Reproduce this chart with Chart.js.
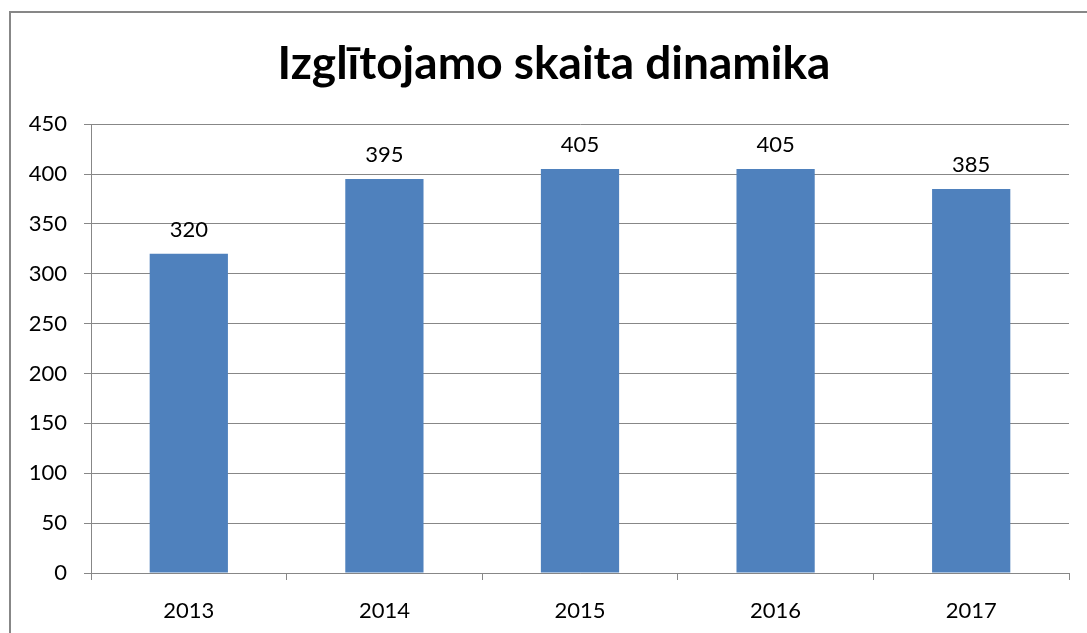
<!DOCTYPE html>
<html>
<head>
<meta charset="utf-8">
<script src="https://cdn.jsdelivr.net/npm/chart.js@4/dist/chart.umd.min.js"></script>
<style>
  html, body { margin: 0; padding: 0; background: #fff; overflow: hidden; }
  #wrap { position: relative; width: 1087px; height: 633px; }
  #frame { position: absolute; left: 9px; top: 11px; width: 1100px; height: 650px; border: 2px solid #878787; box-sizing: border-box; }
  canvas { position: absolute; left: 0; top: 0; }
</style>
</head>
<body>
<div id="wrap">
  <div id="frame"></div>
  <canvas id="c" width="1087" height="633"></canvas>
</div>
<script>
const titleText = "Izglītojamo skaita dinamika";
const categories = ["2013", "2014", "2015", "2016", "2017"];
const values = [320, 395, 405, 405, 385];
const yMin = 0, yMax = 450, yStep = 50;

const FONT = "Lato, 'Open Sans', sans-serif";
const GRID = "#878787";

const dataLabels = {
  id: "dataLabels",
  afterDatasetsDraw(chart) {
    const ctx = chart.ctx;
    const meta = chart.getDatasetMeta(0);
    ctx.save();
    ctx.font = "22px " + FONT;
    ctx.fillStyle = "#000";
    ctx.textAlign = "center";
    ctx.textBaseline = "bottom";
    meta.data.forEach((bar, i) => {
      ctx.fillText(String(values[i]), bar.x, bar.y - 13);
    });
    ctx.restore();
  }
};

new Chart(document.getElementById("c"), {
  type: "bar",
  data: {
    labels: categories,
    datasets: [{
      data: values,
      backgroundColor: "#4F81BD",
      borderWidth: 0,
      barPercentage: 0.4,
      categoryPercentage: 1.0
    }]
  },
  options: {
    responsive: false,
    animation: false,
    layout: { padding: { left: 21, right: 0, top: 0, bottom: 0 } },
    plugins: {
      legend: { display: false },
      tooltip: { enabled: false },
      title: {
        display: true,
        text: titleText,
        color: "#000",
        font: { family: FONT, size: 46, weight: "bold", lineHeight: 1.2 },
        padding: { top: 37, bottom: 32 }
      }
    },
    scales: {
      x: {
        offset: true,
        grid: { display: true, drawOnChartArea: false, drawTicks: true, tickLength: 7, color: GRID, lineWidth: 1, offset: true },
        border: { display: true, color: GRID, width: 1 },
        ticks: { color: "#000", font: { family: FONT, size: 22 }, padding: 18 },
        afterFit(s) { s.height = 60; }
      },
      y: {
        position: "left",
        min: yMin, max: yMax,
        grid: { color: GRID, lineWidth: 1, drawTicks: true, tickLength: 7 },
        border: { display: true, color: GRID, width: 1 },
        ticks: { stepSize: yStep, color: "#000", font: { family: FONT, size: 22 }, padding: 17 },
        afterFit(s) { s.width = 70; }
      },
      yRightSpace: {
        position: "right",
        display: true,
        min: yMin, max: yMax,
        grid: { display: false, drawTicks: false },
        border: { display: false },
        ticks: { display: false },
        afterFit(s) { s.width = 18; }
      }
    }
  },
  plugins: [dataLabels]
});
</script>
</body>
</html>
